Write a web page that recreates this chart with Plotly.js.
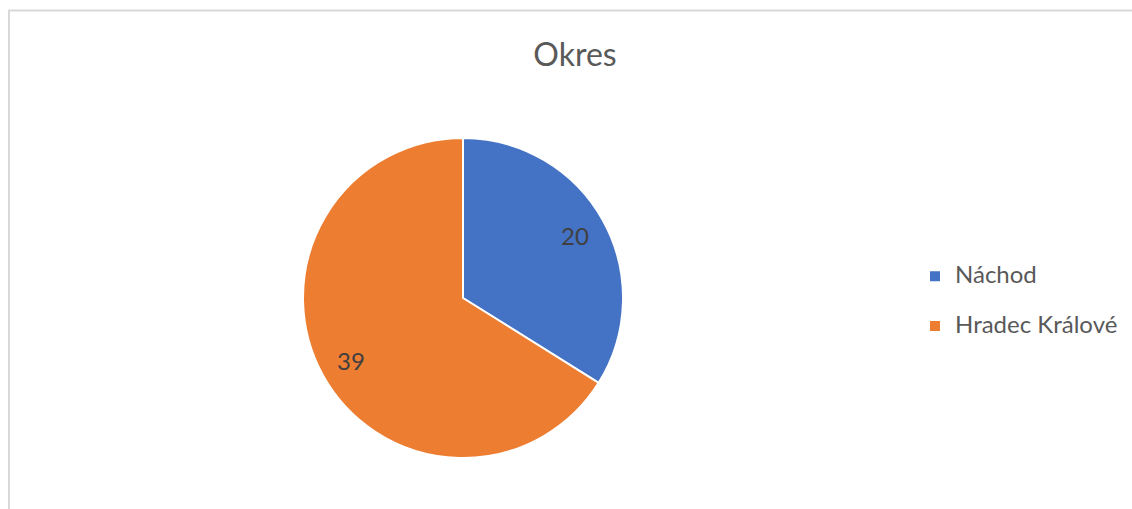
<!DOCTYPE html>
<html>
<head>
<meta charset="utf-8">
<script src="https://cdn.plot.ly/plotly-3.0.1.min.js"></script>
<style>
  html, body { margin: 0; padding: 0; background: #ffffff; }
  #chart { width: 1132px; height: 509px; }
</style>
</head>
<body>
<div id="chart"></div>
<script>
// Data
const categories = ["Náchod", "Hradec Králové"];
const values = [20, 39];
const colors = ["#4472C4", "#ED7D31"];
const chartTitle = "Okres";

const W = 1132, H = 509;
const px = x => x / W;
const py = y => 1 - y / H;
const pieDomain = { x: [px(303), px(623)], y: [py(458), py(138)] };

// legend labels: text at 24px, an extra blank line gives Excel-like spacing
const legendLabels = categories.map(c => '<span style="font-size:24px">' + c + '</span><br> ');

// the filled pie
const pie = {
  type: 'pie',
  labels: legendLabels,
  values: values,
  sort: false,
  direction: 'clockwise',
  rotation: 0,
  marker: { colors: colors, line: { color: '#ffffff', width: 2 } },
  textinfo: 'none',
  hoverinfo: 'value+percent',
  domain: pieDomain
};

// transparent ring on top, only to place the value labels out toward the rim (like Excel)
const labelRing = {
  type: 'pie',
  labels: categories,
  values: values,
  sort: false,
  direction: 'clockwise',
  rotation: 0,
  hole: 0.6,
  showlegend: false,
  marker: { colors: ['rgba(0,0,0,0)', 'rgba(0,0,0,0)'], line: { width: 0 } },
  textinfo: 'value',
  textposition: 'inside',
  insidetextorientation: 'horizontal',
  textfont: { family: 'Lato, sans-serif', size: 24, color: '#404040' },
  hoverinfo: 'skip',
  domain: pieDomain
};

const layout = {
  width: W,
  height: H,
  margin: { l: 0, r: 0, t: 0, b: 0 },
  paper_bgcolor: '#ffffff',
  plot_bgcolor: '#ffffff',
  font: { family: 'Lato, sans-serif', color: '#595959' },
  title: {
    text: chartTitle,
    font: { family: 'Lato, sans-serif', size: 32, color: '#595959' },
    x: px(575), xref: 'paper', xanchor: 'center',
    y: py(55), yref: 'container', yanchor: 'middle'
  },
  showlegend: true,
  legend: {
    x: px(915), xanchor: 'left',
    y: py(258), yanchor: 'top',
    valign: 'top',
    font: { family: 'Lato, sans-serif', size: 18, color: '#595959' },
    bgcolor: 'rgba(0,0,0,0)'
  },
  shapes: [
    { type: 'line', xref: 'paper', yref: 'paper', x0: px(9), x1: px(9), y0: 0, y1: py(10.5), line: { color: '#d9d9d9', width: 2 } },
    { type: 'line', xref: 'paper', yref: 'paper', x0: px(8), x1: 1, y0: py(10.5), y1: py(10.5), line: { color: '#d9d9d9', width: 2 } }
  ]
};

Plotly.newPlot('chart', [pie, labelRing], layout, { displayModeBar: false, staticPlot: true });
</script>
</body>
</html>
